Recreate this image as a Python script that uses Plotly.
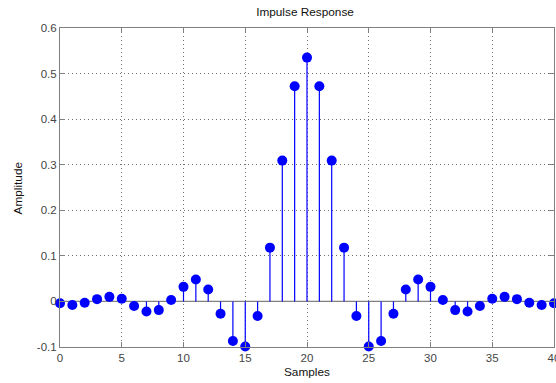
import plotly.graph_objects as go

samples = list(range(41))
amplitude = [
    -0.004, -0.008, -0.003, 0.005, 0.010, 0.006, -0.010, -0.022, -0.019, 0.003,
    0.032, 0.048, 0.026, -0.027, -0.087, -0.099, -0.032, 0.118, 0.309, 0.472,
    0.535,
    0.472, 0.309, 0.118, -0.032, -0.099, -0.087, -0.027, 0.026, 0.048, 0.032,
    0.003, -0.019, -0.022, -0.010, 0.006, 0.010, 0.005, -0.003, -0.008, -0.004,
]
x_ticks = [0, 5, 10, 15, 20, 25, 30, 35, 40]
y_ticks = [-0.1, 0, 0.1, 0.2, 0.3, 0.4, 0.5, 0.6]
y_tick_labels = ["-0.1", "0", "0.1", "0.2", "0.3", "0.4", "0.5", "0.6"]

stem_x, stem_y = [], []
for xv, yv in zip(samples, amplitude):
    stem_x += [xv, xv, None]
    stem_y += [0, yv, None]

fig = go.Figure()
fig.add_trace(go.Scatter(x=[0, 40], y=[0, 0], mode="lines",
                         line=dict(color="#808080", width=1.2),
                         hoverinfo="skip", showlegend=False))
fig.add_trace(go.Scatter(x=stem_x, y=stem_y, mode="lines",
                         line=dict(color="#0000ff", width=1.2),
                         showlegend=False, cliponaxis=False))
fig.add_trace(go.Scatter(x=samples, y=amplitude, mode="markers",
                         marker=dict(color="#0000ff", size=10, line=dict(width=0)),
                         showlegend=False, cliponaxis=False))

axis_font = dict(family="Liberation Sans, Arial, sans-serif", size=11.5, color="#444444")
label_font = dict(family="Liberation Sans, Arial, sans-serif", size=11.8, color="#111111")
fig.update_layout(
    width=556, height=383, autosize=False,
    margin=dict(l=60, r=2, t=28, b=36, autoexpand=False),
    paper_bgcolor="white", plot_bgcolor="white",
    font=dict(family="Liberation Sans, Arial, sans-serif", size=11, color="#222222"),
    title=dict(text="Impulse Response", x=305 / 556, xanchor="center",
               y=1 - 12 / 383, yanchor="middle",
               font=dict(size=11.8, color="#111111")),
    xaxis=dict(range=[0, 40], tickvals=x_ticks, ticks="inside", ticklen=5,
               tickcolor="#808080", showline=True, linecolor="#808080", mirror="ticks",
               showgrid=True, gridcolor="#707070", griddash="1px,3px", gridwidth=1,
               zeroline=False, tickfont=axis_font, automargin=False,
               ticklabeloverflow="allow"),
    yaxis=dict(range=[-0.1, 0.6], tickvals=y_ticks, ticktext=y_tick_labels,
               ticks="inside", ticklen=5,
               tickcolor="#808080", showline=True, linecolor="#808080", mirror="ticks",
               showgrid=True, gridcolor="#707070", griddash="1px,3px", gridwidth=1,
               zeroline=False, tickfont=axis_font, automargin=False,
               ticklabeloverflow="allow"),
    annotations=[
        dict(text="Samples", xref="paper", yref="paper", x=0.5, y=-25 / 319,
             xanchor="center", yanchor="middle", showarrow=False, font=label_font),
        dict(text="Amplitude", xref="paper", yref="paper", x=-42 / 493, y=0.5,
             xanchor="center", yanchor="middle", textangle=-90, showarrow=False,
             font=label_font),
    ],
)

fig.write_html("out.html", config={"displayModeBar": False},
               post_script="document.body.style.margin='0';document.body.style.padding='0';document.body.style.overflow='hidden';")
